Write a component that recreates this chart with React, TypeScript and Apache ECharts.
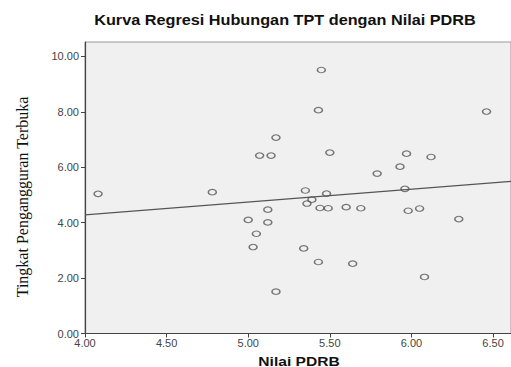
import React, { useEffect, useRef } from "react";
import * as echarts from "echarts";

const pdrb = [4.08, 4.78, 5.17, 5.07, 5.14, 5.12, 5.0, 5.12, 5.05, 5.03, 5.17, 5.34, 5.448, 5.43, 6.46, 5.5, 5.97, 6.12, 5.93, 5.79, 5.35, 5.96, 5.48, 5.39, 5.36, 5.44, 5.49, 5.6, 5.69, 5.98, 6.05, 6.29, 5.43, 5.64, 6.08];
const tpt = [5.04, 5.1, 7.07, 6.42, 6.42, 4.47, 4.1, 4.01, 3.6, 3.12, 1.51, 3.07, 9.51, 8.06, 8.01, 6.53, 6.49, 6.37, 6.02, 5.77, 5.16, 5.22, 5.05, 4.83, 4.69, 4.53, 4.52, 4.56, 4.52, 4.43, 4.51, 4.13, 2.58, 2.52, 2.04];
const fitX = [4.0, 6.61];
const fitY = [4.28, 5.49];
const xTicks = [4.0, 4.5, 5.0, 5.5, 6.0, 6.5];
const yTicks = [0, 2, 4, 6, 8, 10];
const titleText = "Kurva Regresi Hubungan TPT dengan Nilai PDRB";
const xName = "Nilai PDRB";
const yName = "Tingkat Pengangguran Terbuka";

export default function App() {
  const ref = useRef<HTMLDivElement>(null);
  useEffect(() => {
    const chart = echarts.init(ref.current!, null, { renderer: "svg" });
    const sans = "Liberation Sans, Arial, sans-serif";
    chart.setOption({
      animation: false,
      backgroundColor: "#ffffff",
      textStyle: { fontFamily: sans },
      graphic: [
        {
          type: "text",
          x: 285,
          y: 20,
          scaleX: 1.16,
          style: {
            text: titleText,
            font: "bold 14px " + sans,
            fill: "#111",
            textAlign: "center",
            textVerticalAlign: "middle",
          },
        },
        {
          type: "text",
          x: 299,
          y: 361,
          scaleX: 1.2,
          style: {
            text: xName,
            font: "bold 13px " + sans,
            fill: "#111",
            textAlign: "center",
            textVerticalAlign: "middle",
          },
        },
        {
          type: "text",
          x: 22,
          y: 197,
          rotation: Math.PI / 2,
          style: {
            text: yName,
            font: "16px Liberation Serif, Times New Roman, serif",
            fill: "#111",
            textAlign: "center",
            textVerticalAlign: "middle",
          },
        },
      ],
      grid: {
        left: 85,
        top: 42,
        right: 0,
        bottom: 33.5,
        show: true,
        backgroundColor: "#f0f0f0",
        borderColor: "#999",
        borderWidth: 1,
      },
      xAxis: {
        type: "value",
        min: 4.0,
        max: 6.61,
        interval: 0.5,
        splitLine: { show: false },
        axisLine: { lineStyle: { color: "#444", width: 1.2 } },
        axisTick: { show: true, length: 4, customValues: xTicks, lineStyle: { color: "#444" } },
        axisLabel: {
          customValues: xTicks,
          fontSize: 11,
          color: "#444",
          margin: 4,
          formatter: (v: number) => v.toFixed(2),
        },
      },
      yAxis: {
        type: "value",
        min: 0,
        max: 10.52,
        interval: 2,
        splitLine: { show: false },
        axisLine: { lineStyle: { color: "#444", width: 1.2 } },
        axisTick: { show: true, length: 4, customValues: yTicks, lineStyle: { color: "#444" } },
        axisLabel: {
          customValues: yTicks,
          fontSize: 11,
          color: "#444",
          margin: 6,
          formatter: (v: number) => v.toFixed(2),
        },
      },
      series: [
        {
          type: "scatter",
          data: pdrb.map((x, i) => [x, tpt[i]]),
          symbol: "circle",
          symbolSize: [8, 5.5],
          itemStyle: { color: "rgba(0,0,0,0)", borderColor: "#555", borderWidth: 1.3 },
          z: 3,
        },
        {
          type: "line",
          data: fitX.map((x, i) => [x, fitY[i]]),
          showSymbol: false,
          lineStyle: { color: "#555", width: 1.2 },
          z: 2,
        },
      ],
    });
    return () => chart.dispose();
  }, []);
  return <div ref={ref} style={{ position: "fixed", left: 0, top: 0, width: 511, height: 367 }} />;
}
